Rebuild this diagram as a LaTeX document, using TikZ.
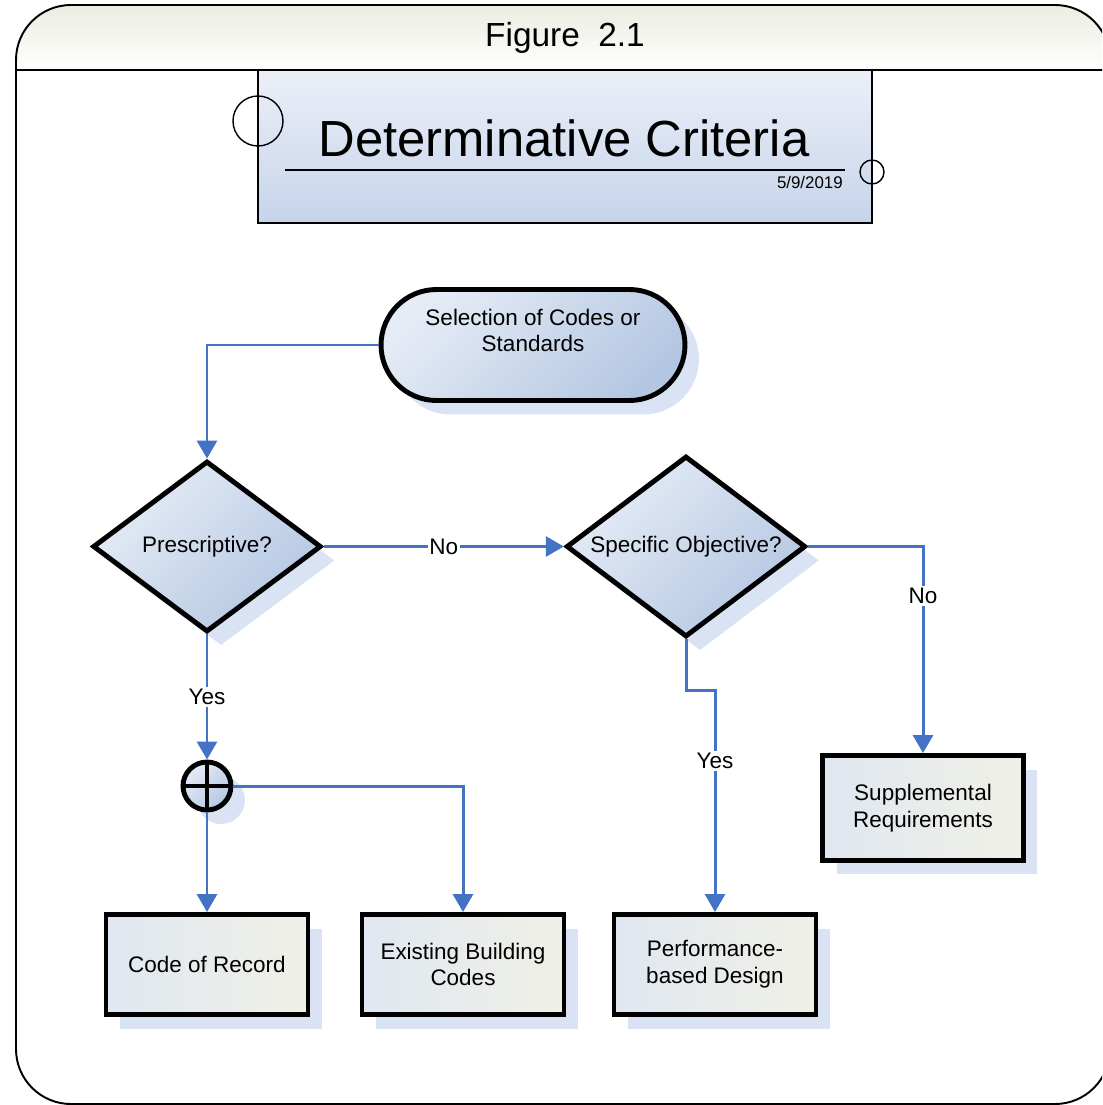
\documentclass[tikz,border=0pt]{standalone}
\usepackage{fontspec}
\setmainfont{Liberation Sans}
\usetikzlibrary{shapes.geometric,shapes.misc,shadows,arrows.meta}

\definecolor{flowblue}{HTML}{4472C4}
\definecolor{shadowblue}{HTML}{DAE3F3}
\definecolor{fillA}{HTML}{E6ECF6}
\definecolor{fillB}{HTML}{B4C7E2}
\definecolor{boxA}{HTML}{E0E7F1}
\definecolor{boxB}{HTML}{F0F0E6}
\definecolor{titleA}{HTML}{ECEFF8}
\definecolor{titleB}{HTML}{C6D4EA}
\definecolor{hdrA}{HTML}{ECECE1}

\newcommand\nodefont{\fontsize{12.8}{15.3}\selectfont}

\begin{document}
\begin{tikzpicture}[x=0.02cm,y=-0.02cm,
                    flow/.style={flowblue,line width=1.7pt,-{Triangle[length=0.36cm,width=0.4cm]}},
                    lbl/.style={fill=white,inner sep=1pt,text=black,font=\nodefont},
                    backdrop/.style={general shadow={fill=shadowblue,shadow xshift=0.28cm,shadow yshift=-0.28cm}},
                    gradfill/.style={top color=fillA,bottom color=fillB,shading angle=45},
                    decision/.style={diamond,aspect=1.33,draw,line width=2.8pt,inner sep=0pt,backdrop,gradfill,font=\nodefont},
                    terminal/.style={rounded rectangle,draw,line width=2.8pt,inner sep=0pt,backdrop,gradfill},
                    process/.style={rectangle,draw,line width=2.8pt,backdrop,left color=boxA,right color=boxB,align=center,font=\nodefont}]
  \path[use as bounding box,clip] (0,0) rectangle (1102,1105);

  \shade[top color=hdrA,bottom color=white] (16,70) [rounded corners=1.1cm] -- (16,5) -- (1110,5) [sharp corners] -- (1110,70) -- cycle;
  \draw[line width=1.1pt,rounded corners=1.1cm] (16,5) rectangle (1110,1104);
  \draw[line width=1.1pt] (16,70) -- (1110,70);
  \node[font=\fontsize{19}{22}\selectfont] (figtitle) at (565,38) {Figure\ \ 2.1};

  \node[draw,line width=0.8pt,top color=titleA,bottom color=titleB,minimum width=12.28cm,minimum height=3.06cm,inner sep=0pt] (titlebox) at (565,146.5) {};
  \node[font=\fontsize{28.9}{34}\selectfont] (maintitle) at (564,138) {Determinative Criteria};
  \draw[line width=0.8pt] (285,170) -- (845,170);
  \node[anchor=east,inner sep=0pt,font=\fontsize{9.6}{11}\selectfont] (date) at (843,182) {5/9/2019};
  \draw[line width=0.8pt] (258,121) circle [radius=25];
  \draw[line width=0.8pt] (872,172) circle [radius=12];

  \node[terminal,minimum width=6.08cm,minimum height=2.22cm] (start) at (533,345) {};
  \node[font=\nodefont,align=center] (starttext) at (533,330.5) {Selection of Codes or\\Standards};

  \node[decision,minimum width=4.57cm,minimum height=3.42cm] (presc) at (207,546.5) {Prescriptive?};
  \node[decision,minimum width=4.79cm,minimum height=3.62cm] (specobj) at (686,546.5) {Specific Objective?};

  \node[circle,draw,line width=2.8pt,minimum size=0.96cm,inner sep=0pt,backdrop,gradfill,
        path picture={\draw[line width=2.8pt] (path picture bounding box.north) -- (path picture bounding box.south)
                      (path picture bounding box.west) -- (path picture bounding box.east);}] (merge) at (207,786) {};

  \node[process,minimum width=4.04cm,minimum height=2cm] (record) at (207,964.5) {Code of Record};
  \node[process,minimum width=4.04cm,minimum height=2cm] (existing) at (463,964.5) {Existing Building\\Codes};
  \node[process,minimum width=4.04cm,minimum height=2cm] (perfdesign) at (715,964.5) {Performance-\\based Design};
  \node[process,minimum width=4.02cm,minimum height=2.1cm] (supplement) at (923,808) {Supplemental\\Requirements};

  \draw[flow] (start.west) -| (presc.north);
  \draw[flow] (presc.east) -- node[lbl] {No} (specobj.west);
  \draw[flow] (presc.south) -- node[lbl] {Yes} (merge.north);
  \draw[flow] (merge.south) -- (record.north);
  \draw[flow] (merge.east) -| (existing.north);
  \coordinate (yesbend) at (715,690);
  \draw[flow] (specobj.south) |- (yesbend) -- node[lbl,pos=0.32] {Yes} (perfdesign.north);
  \draw[flow] (specobj.east) -| node[lbl,pos=0.62] {No} (supplement.north);
\end{tikzpicture}
\end{document}
